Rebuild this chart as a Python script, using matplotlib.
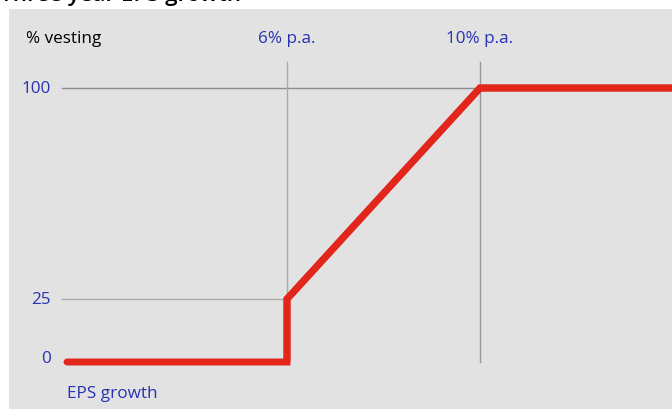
import numpy as np
import matplotlib.pyplot as plt

# Vesting schedule (schematic)
eps_growth = [0, 6, 6, 10, 14]      # % p.a.
vesting = [0, 0, 25, 100, 100]      # % vesting
y_ticks = [0, 25, 100]
y_tick_labels = ["0", "25", "100"]
x_marks = [6, 10]
x_mark_labels = ["6% p.a.", "10% p.a."]

BLUE = "#2832b2"
RED = "#e2261c"
BG = "#e2e2e2"

# schematic axes are not linear: piecewise mapping to pixels
x_knots = [-10, 0, 6, 10, 30]
x_px = [67 - 10 * 36.67, 67, 287, 480, 480 + 20 * 48.25]
y_knots = [-50, 0, 25, 100, 300]
y_px = [47 - 50 * 2.52, 47, 110, 321, 321 + 200 * 2.81]


def fx(v):
    return np.interp(v, x_knots, x_px)


def fx_inv(v):
    return np.interp(v, x_px, x_knots)


def fy(v):
    return np.interp(v, y_knots, y_px)


def fy_inv(v):
    return np.interp(v, y_px, y_knots)


plt.rcParams['font.family'] = ['Open Sans', 'DejaVu Sans']

fig = plt.figure(figsize=(6.72, 4.10), dpi=100)
ax = fig.add_axes([9 / 672, 0, 663 / 672, 400 / 410])
ax.set_facecolor(BG)
ax.set_xscale('function', functions=(fx, fx_inv))
ax.set_yscale('function', functions=(fy, fy_inv))
ax.set_xlim(fx_inv(9), fx_inv(672))
ax.set_ylim(fy_inv(0), fy_inv(400))
for s in ax.spines.values():
    s.set_visible(False)
ax.set_xticks([])
ax.set_yticks([])
ax.xaxis.set_minor_locator(plt.NullLocator())
ax.yaxis.set_minor_locator(plt.NullLocator())

top = fy_inv(347)
left = fx_inv(62)

# guide lines
ax.plot([left, 14], [100, 100], color="#8c8c8c", lw=1.0)
ax.plot([left, 6], [25, 25], color="#aaaaaa", lw=1.0)
ax.plot([6, 6], [25, top], color="#aaaaaa", lw=1.0)
ax.plot([10, 10], [0, top], color="#999999", lw=1.0)

# vesting line
ax.plot(eps_growth, vesting, color=RED, lw=5,
        solid_capstyle='round', solid_joinstyle='miter')
ax.plot(eps_growth[1:], vesting[1:], color=RED, lw=5,
        solid_capstyle='butt', solid_joinstyle='miter')

# labels
fs = 12.3
lab_y = fy_inv(371)
ax.text(fx_inv(26), lab_y, "% vesting", color="black", fontsize=fs, va='center', ha='left')
for xm, lab in zip(x_marks, x_mark_labels):
    ax.text(xm, lab_y, lab, color=BLUE, fontsize=fs, va='center', ha='center')
for yv, lab in zip(y_ticks, y_tick_labels):
    ax.text(fx_inv(51), yv + (1.5 if yv == 0 else 0), lab, color=BLUE, fontsize=fs,
            va='center', ha='right')
ax.text(0, fy_inv(16), "EPS growth", color=BLUE, fontsize=fs, va='center', ha='left')

# title, cut off at the top of the image
fig.text(0.0, 408.5 / 410, "Three year EPS growth", color="black", fontsize=16,
         fontweight='semibold', va='baseline', ha='left')

fig.savefig("out.png", dpi=100)
